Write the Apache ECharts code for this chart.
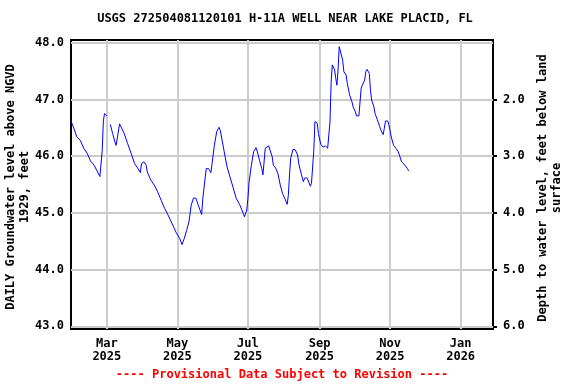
<!DOCTYPE html>
<html><head><meta charset="utf-8">
<script src="https://cdn.jsdelivr.net/npm/echarts@6/dist/echarts.min.js"></script>
<style>html,body{margin:0;padding:0;background:#fff}#c{width:576px;height:384px}</style>
</head><body><div id="c"></div>
<script>
var titleText = 'USGS 272504081120101 H-11A WELL NEAR LAKE PLACID, FL';
var noteText = '---- Provisional Data Subject to Revision ----';
var leftName = 'DAILY Groundwater level above NGVD\n1929, feet';
var rightName = 'Depth to water level, feet below land\nsurface';
var landSurface = 49.0; // depth = landSurface - level
var leftTicks = [43, 44, 45, 46, 47, 48];
var rightTicks = [2, 3, 4, 5, 6];
var xTickDates = ['2025-03-01','2025-05-01','2025-07-01','2025-09-01','2025-11-01','2026-01-01'];
var monthNames = ['Jan','Feb','Mar','Apr','May','Jun','Jul','Aug','Sep','Oct','Nov','Dec'];
var xStart = '2025-01-29', xEnd = '2026-01-29';

var dates = [
'2025-01-29','2025-02-01','2025-02-03','2025-02-06','2025-02-09','2025-02-12','2025-02-15','2025-02-18','2025-02-21','2025-02-23',
'2025-02-24','2025-02-25','2025-02-26','2025-02-27','2025-02-28','2025-03-01','2025-03-02','2025-03-04','2025-03-06','2025-03-08',
'2025-03-09','2025-03-10','2025-03-12','2025-03-13','2025-03-16','2025-03-19','2025-03-22','2025-03-25','2025-03-28','2025-03-30',
'2025-03-31','2025-04-02','2025-04-04','2025-04-05','2025-04-08','2025-04-11','2025-04-14','2025-04-17','2025-04-20','2025-04-23',
'2025-04-25','2025-04-28','2025-04-30','2025-05-03','2025-05-05','2025-05-07','2025-05-09','2025-05-11','2025-05-13','2025-05-15',
'2025-05-17','2025-05-19','2025-05-22','2025-05-23','2025-05-25','2025-05-26','2025-05-28','2025-05-30','2025-05-31','2025-06-02',
'2025-06-04','2025-06-06','2025-06-07','2025-06-09','2025-06-11','2025-06-13','2025-06-15','2025-06-18','2025-06-21','2025-06-24',
'2025-06-27','2025-06-28','2025-06-30','2025-07-01','2025-07-02','2025-07-04','2025-07-06','2025-07-08','2025-07-09','2025-07-11',
'2025-07-13','2025-07-14','2025-07-15','2025-07-16','2025-07-19','2025-07-20','2025-07-22','2025-07-23','2025-07-25','2025-07-27',
'2025-07-29','2025-07-31','2025-08-02','2025-08-04','2025-08-05','2025-08-06','2025-08-07','2025-08-09','2025-08-11','2025-08-13',
'2025-08-14','2025-08-16','2025-08-18','2025-08-19','2025-08-21','2025-08-22','2025-08-24','2025-08-25','2025-08-27','2025-08-28',
'2025-08-30','2025-08-31','2025-09-02','2025-09-04','2025-09-06','2025-09-08','2025-09-09','2025-09-10','2025-09-11','2025-09-12',
'2025-09-14','2025-09-15','2025-09-16','2025-09-17','2025-09-18','2025-09-19','2025-09-21','2025-09-22','2025-09-24','2025-09-25',
'2025-09-27','2025-09-29','2025-09-30','2025-10-02','2025-10-03','2025-10-05','2025-10-06','2025-10-07','2025-10-08','2025-10-10',
'2025-10-11','2025-10-12','2025-10-14','2025-10-15','2025-10-16','2025-10-18','2025-10-19','2025-10-21','2025-10-23','2025-10-24',
'2025-10-26','2025-10-27','2025-10-28','2025-10-30','2025-10-31','2025-11-02','2025-11-04','2025-11-06','2025-11-08','2025-11-09',
'2025-11-11','2025-11-13','2025-11-16','2025-11-17'
];
var levels = [
46.62,46.46,46.34,46.28,46.14,46.05,45.91,45.84,45.72,45.64,
45.66,46.10,46.62,46.75,46.74,46.71,null,46.56,46.40,46.25,
46.19,46.31,46.57,46.55,46.40,46.22,46.05,45.87,45.78,45.71,
45.87,45.90,45.84,45.72,45.58,45.49,45.37,45.22,45.08,44.96,
44.87,44.74,44.65,44.55,44.44,44.55,44.69,44.84,45.14,45.26,
45.26,45.14,44.97,45.25,45.61,45.78,45.78,45.71,45.87,46.19,
46.43,46.51,46.46,46.25,46.02,45.81,45.67,45.46,45.25,45.14,
44.99,44.93,45.05,45.25,45.54,45.84,46.08,46.15,46.09,45.93,
45.78,45.67,45.90,46.14,46.18,46.16,45.99,45.84,45.79,45.69,
45.49,45.34,45.25,45.15,45.31,45.67,45.96,46.12,46.11,46.02,
45.87,45.70,45.55,45.61,45.62,45.58,45.47,45.52,46.10,46.61,
46.58,46.40,46.21,46.16,46.18,46.14,46.11,46.60,47.30,47.61,
47.52,47.37,47.25,47.52,47.93,47.90,47.69,47.49,47.43,47.28,
47.08,46.96,46.87,46.78,46.71,46.71,46.72,47.20,47.25,47.34,
47.49,47.53,47.46,47.17,46.99,46.87,46.75,46.64,46.52,46.46,
46.38,46.49,46.62,46.62,46.55,46.34,46.19,46.14,46.08,46.02,
45.90,45.86,45.78,45.74
];

function toTime(s){ var p = s.split('-'); return new Date(+p[0], +p[1]-1, +p[2]).getTime(); }
var seriesData = dates.map(function(d,i){ return [toTime(d), levels[i]]; });
var leftMin = 42.952, leftMax = 48.048;
var FONT = '"DejaVu Sans Mono", monospace';
var xTicks = xTickDates.map(toTime);

var chart = echarts.init(document.getElementById('c'), null, {renderer:'canvas'});
chart.setOption({
  animation: false,
  backgroundColor: '#fff',
  title: [
    {text: titleText, left: 285, top: 13, textAlign: 'center', padding: 0,
     textStyle: {fontFamily: FONT, fontWeight: 'bold', fontSize: 12, color: '#000'}},
    {text: noteText, left: 282, top: 369, textAlign: 'center', padding: 0,
     textStyle: {fontFamily: FONT, fontWeight: 'bold', fontSize: 12, color: '#ff0000'}}
  ],
  grid: {left: 71, right: 83, top: 40, bottom: 55, show: true, borderColor: '#000', borderWidth: 2, backgroundColor: 'transparent'},
  xAxis: {
    type: 'value', min: toTime(xStart), max: toTime(xEnd),
    axisLine: {show: false},
    axisTick: {show: false, customValues: xTicks},
    splitLine: {show: true, lineStyle: {color: '#cccccc', width: 2}},
    axisLabel: {customValues: xTicks, margin: 8, lineHeight: 13,
      fontFamily: FONT, fontWeight: 'bold', fontSize: 12, color: '#000',
      formatter: function(v){ var d = new Date(v); return monthNames[d.getMonth()] + '\n' + d.getFullYear(); }}
  },
  yAxis: [
    {type: 'value', min: leftMin, max: leftMax, position: 'left',
     axisLine: {show: false},
     axisTick: {show: false, customValues: leftTicks},
     splitLine: {show: true, lineStyle: {color: '#cccccc', width: 2}},
     axisLabel: {customValues: leftTicks, margin: 7, fontFamily: FONT, fontWeight: 'bold', fontSize: 12, color: '#000',
       formatter: function(v){ return v.toFixed(1); }}},
    {type: 'value', inverse: true, min: landSurface - leftMax, max: landSurface - leftMin, position: 'right',
     axisLine: {show: false},
     axisTick: {show: true, length: 4, customValues: rightTicks, lineStyle: {color: '#000', width: 2}},
     splitLine: {show: false},
     axisLabel: {customValues: rightTicks, margin: 10, fontFamily: FONT, fontWeight: 'bold', fontSize: 12, color: '#000',
       formatter: function(v){ return v.toFixed(1); }}}
  ],
  graphic: [
    {type: 'text', x: 18, y: 187, rotation: Math.PI/2,
     style: {text: leftName, fill: '#000', font: 'bold 12px ' + FONT, textAlign: 'center', textVerticalAlign: 'middle', lineHeight: 14}},
    {type: 'text', x: 550, y: 188, rotation: Math.PI/2,
     style: {text: rightName, fill: '#000', font: 'bold 12px ' + FONT, textAlign: 'center', textVerticalAlign: 'middle', lineHeight: 14}}
  ],
  series: [{
    type: 'line', xAxisIndex: 0, yAxisIndex: 0, data: seriesData,
    showSymbol: false, connectNulls: false,
    lineStyle: {color: '#0000ff', width: 1}, itemStyle: {color: '#0000ff'}
  }]
});
</script></body></html>
